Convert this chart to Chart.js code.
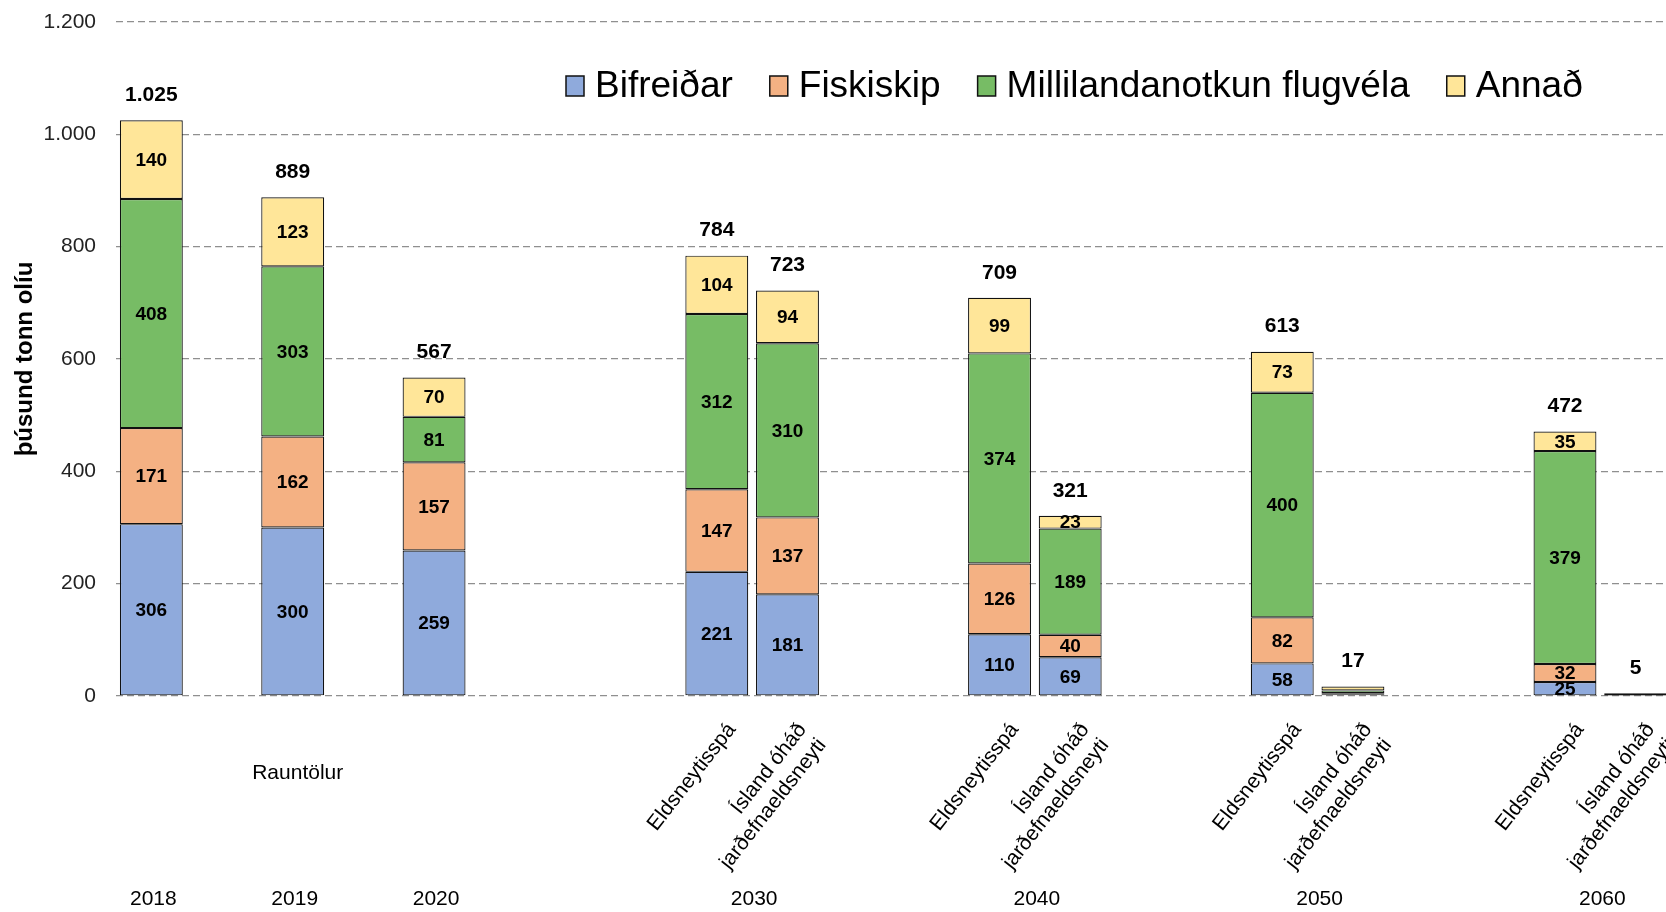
<!DOCTYPE html>
<html>
<head>
<meta charset="utf-8">
<script src="https://cdn.jsdelivr.net/npm/chart.js@4/dist/chart.umd.min.js"></script>
<style>
  html, body { margin: 0; padding: 0; background: #fff; overflow: hidden; }
  #wrap { position: relative; width: 1680px; height: 912px; }
</style>
</head>
<body>
<div id="wrap"><canvas id="chart"></canvas></div>
<script>
// One slot per category; empty strings are spacer slots between year groups.
const years = ['2018', '', '2019', '', '2020', '', '', '',
  '2030', '2030', '', '', '2040', '2040', '', '', '2050', '2050', '', '', '2060', '2060'];
const scenarios = ['', '', '', '', '', '', '', '',
  'Eldsneytisspá', 'Ísland óháð\njarðefnaeldsneyti', '', '',
  'Eldsneytisspá', 'Ísland óháð\njarðefnaeldsneyti', '', '',
  'Eldsneytisspá', 'Ísland óháð\njarðefnaeldsneyti', '', '',
  'Eldsneytisspá', 'Ísland óháð\njarðefnaeldsneyti'];
const actualsLabel = 'Rauntölur';
const actualsYears = ['2018', '2020'];

const bifreidar  = [306, null, 300, null, 259, null, null, null, 221, 181, null, null, 110, 69, null, null, 58, 3, null, null, 25, 1];
const fiskiskip  = [171, null, 162, null, 157, null, null, null, 147, 137, null, null, 126, 40, null, null, 82, 2, null, null, 32, 0];
const millilanda = [408, null, 303, null, 81, null, null, null, 312, 310, null, null, 374, 189, null, null, 400, 5, null, null, 379, 1];
const annad      = [140, null, 123, null, 70, null, null, null, 104, 94, null, null, 99, 23, null, null, 73, 7, null, null, 35, 3];
const totals     = [1025, null, 889, null, 567, null, null, null, 784, 723, null, null, 709, 321, null, null, 613, 17, null, null, 472, 5];

const yTitle = 'þúsund tonn olíu';
const FONT = 'Arial, "Liberation Sans", sans-serif';

// Icelandic number format: 1.025
const fmt = n => String(n).replace(/\B(?=(\d{3})+(?!\d))/g, '.');

const valueLabels = {
  id: 'valueLabels',
  afterDatasetsDraw(chart) {
    const { ctx } = chart;
    ctx.save();
    ctx.fillStyle = '#000';
    ctx.textAlign = 'center';
    ctx.textBaseline = 'middle';
    ctx.font = 'bold 19px ' + FONT;
    chart.data.datasets.forEach((ds, d) => {
      chart.getDatasetMeta(d).data.forEach((bar, i) => {
        const v = ds.data[i];
        if (v == null || v < 20) return;
        ctx.fillText(fmt(v), bar.x, (bar.y + bar.base) / 2 + 1);
      });
    });
    ctx.font = 'bold 21px ' + FONT;
    totals.forEach((t, i) => {
      if (t == null) return;
      let top = Infinity;
      chart.data.datasets.forEach((ds, d) => {
        const bar = chart.getDatasetMeta(d).data[i];
        top = Math.min(top, bar.y, bar.base);
      });
      const x = chart.getDatasetMeta(0).data[i].x;
      ctx.fillText(fmt(t), x, top - 25);
    });
    ctx.restore();
  }
};

const categoryLabels = {
  id: 'categoryLabels',
  afterDraw(chart) {
    const { ctx, scales: { x } } = chart;
    ctx.save();
    ctx.fillStyle = '#000';
    ctx.font = '21px ' + FONT;

    scenarios.forEach((s, i) => {
      if (!s) return;
      ctx.save();
      ctx.translate(x.getPixelForValue(i) + 15, 726);
      ctx.rotate(-52 * Math.PI / 180);
      ctx.textAlign = 'right';
      ctx.textBaseline = 'middle';
      s.split('\n').forEach((line, k) => ctx.fillText(line, 0, k * 25));
      ctx.restore();
    });

    ctx.textAlign = 'center';
    ctx.textBaseline = 'middle';
    const groups = new Map();
    years.forEach((y, i) => {
      if (!y) return;
      if (!groups.has(y)) groups.set(y, []);
      groups.get(y).push(x.getPixelForValue(i));
    });
    groups.forEach((px, y) => {
      ctx.fillText(y, (px[0] + px[px.length - 1]) / 2 + 2, 899);
    });

    const a = x.getPixelForValue(years.indexOf(actualsYears[0]));
    const b = x.getPixelForValue(years.indexOf(actualsYears[1]));
    ctx.fillText(actualsLabel, (a + b) / 2 + 5, 773);
    ctx.restore();
  }
};

const topLegend = {
  id: 'topLegend',
  afterDraw(chart) {
    const { ctx } = chart;
    ctx.save();
    ctx.font = '37px ' + FONT;
    ctx.textBaseline = 'middle';
    let x = 566;
    const y = 86;
    chart.data.datasets.forEach(ds => {
      ctx.fillStyle = ds.backgroundColor;
      ctx.fillRect(x, y - 10, 18, 20);
      ctx.strokeStyle = '#111';
      ctx.lineWidth = 1.5;
      ctx.strokeRect(x, y - 10, 18, 20);
      ctx.fillStyle = '#000';
      ctx.fillText(ds.label, x + 29, y + 1);
      x += 29 + ctx.measureText(ds.label).width + 37;
    });
    ctx.restore();
  }
};

const barStyle = { borderColor: '#111', borderWidth: 1.2, borderSkipped: false,
  barPercentage: 0.89, categoryPercentage: 1 };

new Chart(document.getElementById('chart'), {
  type: 'bar',
  data: {
    labels: years,
    datasets: [
      { label: 'Bifreiðar', data: bifreidar, backgroundColor: '#8FAADC', ...barStyle },
      { label: 'Fiskiskip', data: fiskiskip, backgroundColor: '#F4B183', ...barStyle },
      { label: 'Millilandanotkun flugvéla', data: millilanda, backgroundColor: '#77BC65', ...barStyle },
      { label: 'Annað', data: annad, backgroundColor: '#FFE699', ...barStyle },
    ],
  },
  options: {
    responsive: true,
    maintainAspectRatio: false,
    animation: false,
    layout: { padding: { top: 22, right: 9, bottom: 216, left: 0 } },
    plugins: { legend: { display: false }, tooltip: { enabled: false } },
    scales: {
      x: { stacked: true, display: false },
      y: {
        stacked: true,
        min: 0,
        max: 1200,
        ticks: { stepSize: 200, padding: 20, color: '#222', font: { family: FONT, size: 21 }, callback: v => fmt(v) },
        grid: { color: '#8f8f8f', lineWidth: 1.3, drawTicks: false },
        border: { display: false, dash: [7, 4] },
        title: { display: true, text: yTitle, color: '#000', padding: { top: 11, bottom: 0 },
          font: { family: FONT, size: 24, weight: 'bold' } },
        afterFit(scale) {
          scale.width = 116;
          scale.paddingTop = 0;
          scale.paddingBottom = 0;
        },
      },
    },
  },
  plugins: [valueLabels, categoryLabels, topLegend],
});
</script>
</body>
</html>
